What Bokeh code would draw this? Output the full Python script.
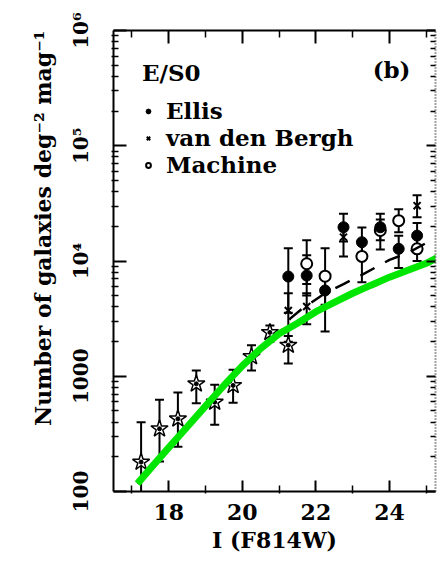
from bokeh.plotting import figure
from bokeh.models import (ColumnDataSource, Whisker, TeeHead, FixedTicker, LinearAxis,
                          LogAxis, Legend, LegendItem, Label, Title)
from bokeh.embed import file_html
from bokeh.resources import INLINE

# ---------------- data ----------------
# ground-based counts (open stars)
star_mag = [17.25, 17.75, 18.25, 18.75, 19.25, 19.75, 20.25, 20.75, 21.25]
star_n = [180, 350, 427, 859, 596, 832, 1480, 2400, 1860]
star_hi = [398, 625, 724, 1122, 843, 1138, 1862, 2754, 2239]
star_lo = [79, 182, 245, 583, 380, 589, 1122, 1995, 1288]

# Ellis (filled circles)
ellis_mag = [21.25, 21.75, 22.25, 22.75, 23.25, 23.75, 24.25, 24.75]
ellis_n = [7330, 7480, 5550, 19630, 14560, 19630, 12760, 16600]
ellis_hi = [12880, 11220, 7410, 25700, 19500, 25700, 16600, 21380]
ellis_lo = [3550, 5010, 2450, 14790, 10960, 15140, 8710, 12590]

# van den Bergh (crosses)
vdb_mag = [21.25, 21.75, 22.75, 24.75]
vdb_n = [3720, 4030, 16110, 30200]
vdb_hi = [5250, 5250, 20890, 37150]
vdb_lo = [1995, 2820, 10960, 23990]

# automated classification (open circles)
mach_mag = [21.75, 22.25, 23.25, 23.75, 24.25, 24.75]
mach_n = [9460, 7380, 10960, 18410, 22390, 12760]
mach_hi = [15140, 12880, 14450, 22910, 28180, 15850]
mach_lo = [6310, 4170, 6550, 12590, 17780, 10000]

# model predictions
model_mag = [17.15, 17.5, 18.0, 18.5, 19.0, 19.5, 20.0, 20.5, 21.0, 21.5, 22.0,
             22.5, 23.0, 23.5, 24.0, 24.5, 25.0, 25.3]
model_n = [117, 158, 240, 363, 550, 832, 1230, 1740, 2340, 2880, 3630,
           4370, 5250, 6170, 7240, 8320, 9550, 10700]
alt_mag = [17.15, 18.0, 19.0, 20.0, 21.0, 21.3, 21.6, 22.25, 22.75, 23.25, 24.0,
           24.5, 25.25]
alt_n = [117, 240, 550, 1230, 2340, 3160, 3800, 5250, 6310, 7590, 10230,
         11750, 15850]

x_ticks = [18, 20, 22, 24]
x_minor = [17, 19, 21, 23, 25]
y_ticks = [100, 1000, 10000, 100000, 1000000]
y_tick_labels = ["100", "1000", "10⁴", "10⁵", "10⁶"]
y_minor = [k * 10 ** d for d in range(2, 6) for k in range(2, 10)]

FONT = "DejaVu Serif"

p = figure(width=438, height=577, x_range=(16.5, 25.25), y_range=(100, 1e6),
           y_axis_type="log", output_backend="svg", toolbar_location=None,
           min_border_left=113, min_border_right=3, min_border_top=30,
           min_border_bottom=86)
p.grid.visible = False
p.outline_line_color = None
p.background_fill_color = "white"
p.border_fill_color = "white"

xt = FixedTicker(ticks=x_ticks, minor_ticks=x_minor)
yt = FixedTicker(ticks=y_ticks, minor_ticks=y_minor)


def style_axis(ax, ticker, major_in, minor_in, minor_out=0):
    ax.ticker = ticker
    ax.axis_line_width = 2
    ax.axis_line_color = "black"
    ax.major_tick_in = major_in
    ax.major_tick_out = 0
    ax.minor_tick_in = minor_in
    ax.minor_tick_out = minor_out
    ax.major_tick_line_width = 2
    ax.minor_tick_line_width = 1.5
    ax.major_tick_line_color = "black"
    ax.minor_tick_line_color = "black"


# bottom axis
xa = p.xaxis[0]
style_axis(xa, xt, 11, 6, 2)
xa.major_label_text_font = FONT
xa.major_label_text_font_style = "bold"
xa.major_label_text_font_size = "22px"
xa.major_label_text_color = "black"
xa.major_label_standoff = 10
xa.axis_label = "I (F814W)"
xa.axis_label_text_font = FONT
xa.axis_label_text_font_style = "bold"
xa.axis_label_text_font_size = "22px"
xa.axis_label_text_color = "black"
xa.axis_label_standoff = 4

# left axis
ya = p.yaxis[0]
style_axis(ya, yt, 13, 5, 2)
ya.major_label_overrides = dict(zip(y_ticks, y_tick_labels))
ya.major_label_orientation = "vertical"
ya.major_label_text_font = FONT
ya.major_label_text_font_style = "bold"
ya.major_label_text_font_size = "20px"
ya.major_label_text_color = "black"
ya.major_label_standoff = 19

# top and right frame axes (ticks only, labels not painted)
top = LinearAxis()
style_axis(top, xt, 13, 7)
top.major_label_text_font_size = "1px"
top.major_label_text_color = None
top.major_label_standoff = 0
p.add_layout(top, "above")

right = LogAxis()
style_axis(right, yt, 9, 5)
right.axis_line_dash = "1 2"
right.axis_line_color = "#444444"
right.major_label_text_font_size = "1px"
right.major_label_text_color = None
right.major_label_standoff = 0
p.add_layout(right, "right")

# vertical axis title
ytitle = Title(text="Number of galaxies deg⁻² mag⁻¹", align="right",
               text_font=FONT, text_font_style="bold", text_font_size="22px",
               text_color="black", standoff=20)
p.add_layout(ytitle, "left")


def error_bars(mag, lo, hi):
    src = ColumnDataSource(dict(x=mag, lo=lo, hi=hi))
    w = Whisker(base="x", lower="lo", upper="hi", source=src,
                line_color="black", line_width=2,
                upper_head=TeeHead(size=9, line_width=2, line_color="black"),
                lower_head=TeeHead(size=9, line_width=2, line_color="black"))
    p.add_layout(w)


error_bars(star_mag, star_lo, star_hi)
error_bars(ellis_mag, ellis_lo, ellis_hi)
error_bars(vdb_mag, vdb_lo, vdb_hi)
error_bars(mach_mag, mach_lo, mach_hi)

p.scatter(star_mag, star_n, marker="star", size=18, fill_color="white",
          line_color="black", line_width=1.5)
p.scatter(star_mag, star_n, marker="circle", size=4, fill_color="black",
          line_color="black")
r_mach = p.scatter(mach_mag, mach_n, marker="circle", size=11, fill_color="white",
                   line_color="black", line_width=2)
r_ellis = p.scatter(ellis_mag, ellis_n, marker="circle", size=11, fill_color="black",
                    line_color="black")
r_vdb = p.scatter(vdb_mag, vdb_n, marker="x", size=10, line_color="black",
                  line_width=2)

# model curves
p.line(alt_mag, alt_n, line_color="black", line_width=2.5, line_dash="16 12")
p.line(model_mag, model_n, line_color="#00e600", line_width=7)

legend = Legend(items=[LegendItem(label="Ellis", renderers=[r_ellis]),
                       LegendItem(label="van den Bergh", renderers=[r_vdb]),
                       LegendItem(label="Machine", renderers=[r_mach])],
                location="top_left", title="E/S0",
                title_text_font=FONT, title_text_font_style="bold",
                title_text_font_size="23px", title_text_color="black",
                title_standoff=11,
                label_text_font=FONT, label_text_font_style="bold",
                label_text_font_size="23px", label_text_color="black",
                border_line_color=None, background_fill_alpha=0,
                glyph_width=12, glyph_height=20, label_height=20,
                label_standoff=12, spacing=-7, padding=0, margin=29)
p.add_layout(legend)

p.add_layout(Label(x=24.57, y=600000, text="(b)", text_align="right",
                   text_baseline="top", text_font=FONT, text_font_style="bold",
                   text_font_size="23px", text_color="black"))

open("out.html", "w").write(file_html(p, INLINE))
